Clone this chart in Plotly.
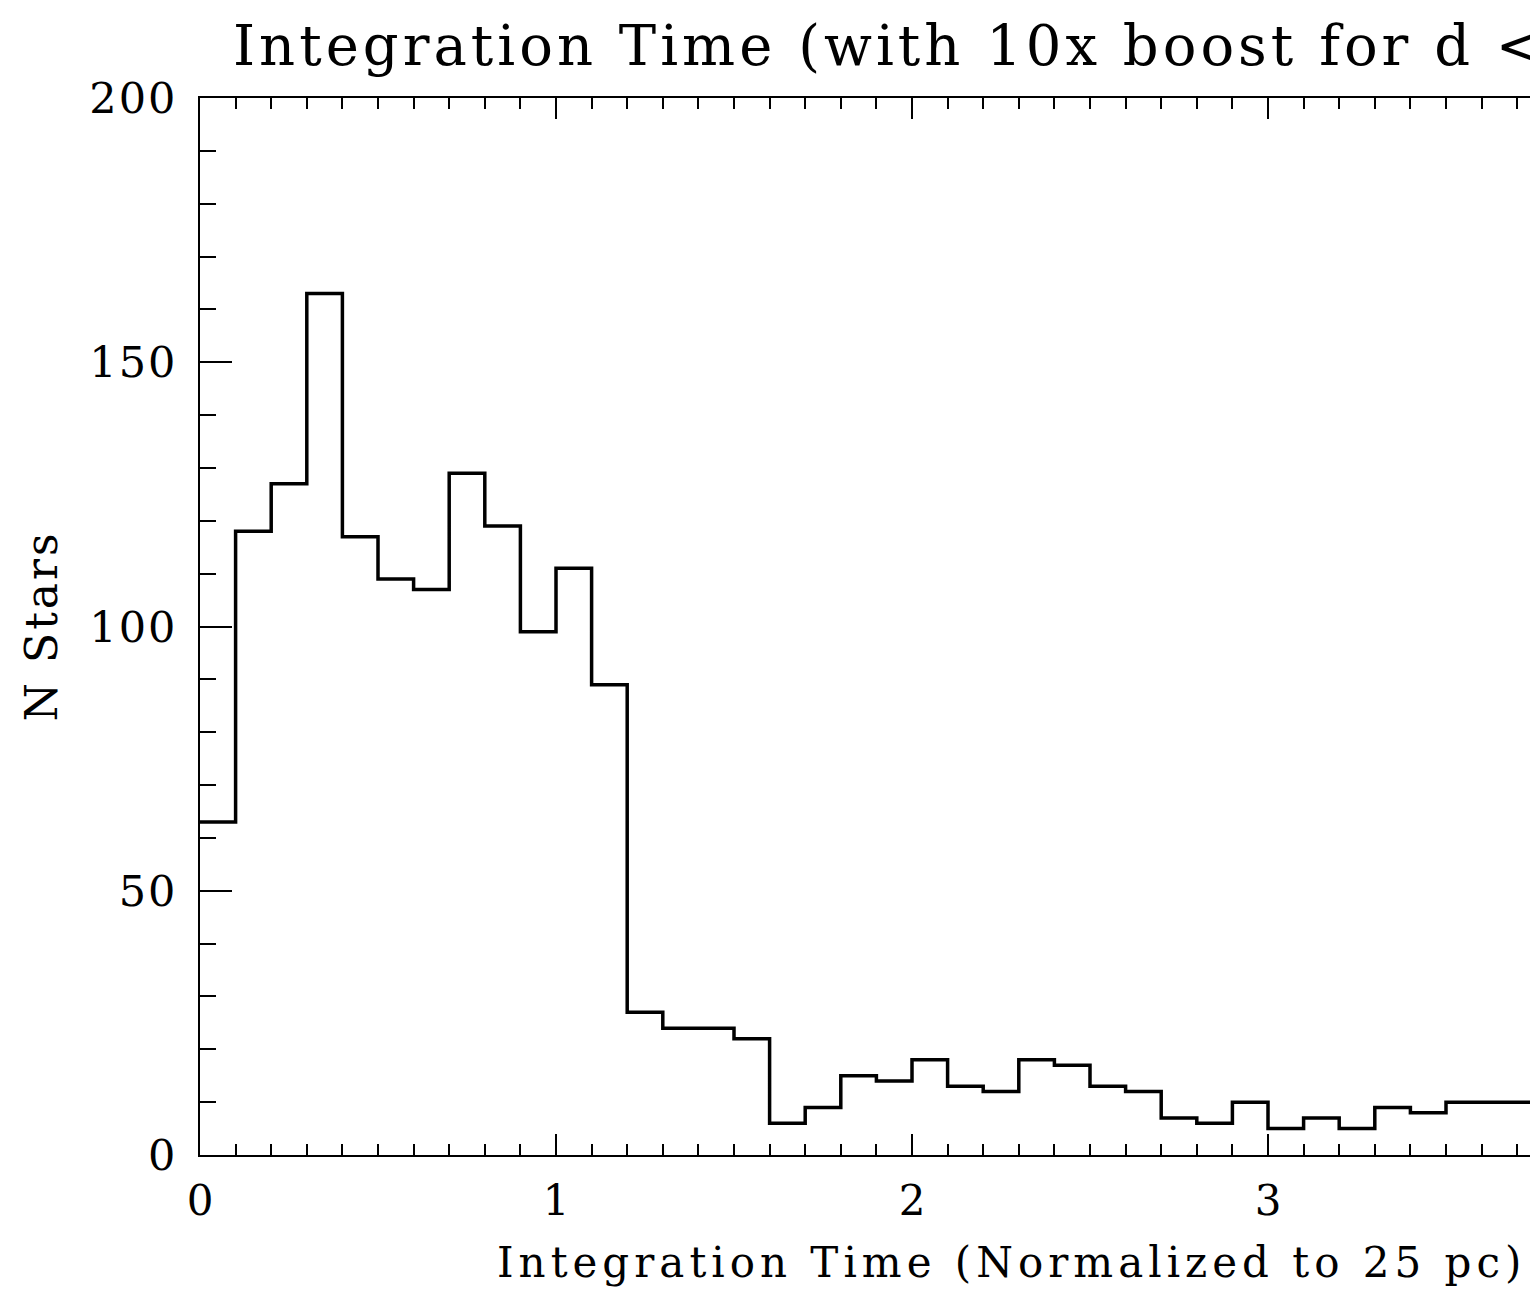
import plotly.graph_objects as go

# Histogram data: bin edges every 0.1 from 0 to 3.8, counts per bin
bin_width = 0.1
counts = [63, 118, 127, 163, 117, 109, 107, 129, 119, 99,
          111, 89, 27, 24, 24, 22, 6, 9, 15, 14,
          18, 13, 12, 18, 17, 13, 12, 7, 6, 10,
          5, 7, 5, 9, 8, 10, 10, 10]
edges = [round(i * bin_width, 1) for i in range(len(counts) + 1)]
y_steps = counts + [counts[-1]]

title_text = "Integration Time (with 10x boost for d <"
x_title = "Integration Time (Normalized to 25 pc)"
y_title = "N Stars"
x_ticks = [0, 1, 2, 3]
y_ticks = [0, 50, 100, 150, 200]

W, H = 1538, 1289
ML, MT, MB, MR = 192, 90, 142, 0
FONT = "DejaVu Serif"


def spaced(t, px):
    return f'<span style="letter-spacing:{px}px">{t}</span>'


fig = go.Figure()
fig.add_trace(go.Scatter(
    x=edges, y=y_steps, mode="lines",
    line=dict(shape="hv", color="black", width=3.5),
    showlegend=False, hoverinfo="skip",
))

plot_w = W - ML - MR
plot_h = H - MT - MB
fig.update_layout(
    width=W, height=H,
    margin=dict(l=ML, r=MR, t=MT, b=MB, autoexpand=False),
    paper_bgcolor="white", plot_bgcolor="white",
    font=dict(family=FONT, color="black", size=42),
    title=dict(text=spaced(title_text, 4), x=225 / W, xanchor="left", xref="container",
               y=1 - 37 / H, yanchor="middle", yref="container",
               font=dict(family=FONT, size=56, color="black")),
    xaxis=dict(range=[0, plot_w / 356.0], showgrid=False, zeroline=False,
               showline=True, linecolor="black", linewidth=2, mirror="ticks",
               ticks="inside", ticklen=21, tickwidth=2, tickcolor="black",
               tickvals=x_ticks, ticktext=[str(v) for v in x_ticks],
               ticklabelstandoff=8,
               minor=dict(ticks="inside", ticklen=11, tickwidth=2, tickcolor="black", dtick=0.1, showgrid=False),
               tickfont=dict(family=FONT, size=42, color="black")),
    yaxis=dict(range=[0, 200], showgrid=False, zeroline=False,
               showline=True, linecolor="black", linewidth=2, mirror=False,
               ticks="inside", ticklen=32, tickwidth=2, tickcolor="black",
               tickvals=y_ticks, ticktext=[spaced(str(v), 2) for v in y_ticks],
               ticklabelstandoff=12,
               minor=dict(ticks="inside", ticklen=16, tickwidth=2, tickcolor="black", dtick=10, showgrid=False),
               tickfont=dict(family=FONT, size=43, color="black")),
)

fig.add_annotation(text=spaced(x_title, 5), xref="paper", yref="paper",
                   x=(1003 - ML) / plot_w, y=-(1254 - (H - MB)) / plot_h,
                   xanchor="center", yanchor="middle", showarrow=False,
                   font=dict(family=FONT, size=42, color="black"))
fig.add_annotation(text=spaced(y_title, 3), xref="paper", yref="paper",
                   x=-(ML - 33) / plot_w, y=0.5, textangle=-90,
                   xanchor="center", yanchor="middle", showarrow=False,
                   font=dict(family=FONT, size=44, color="black"))

fig.write_html("out.html")
